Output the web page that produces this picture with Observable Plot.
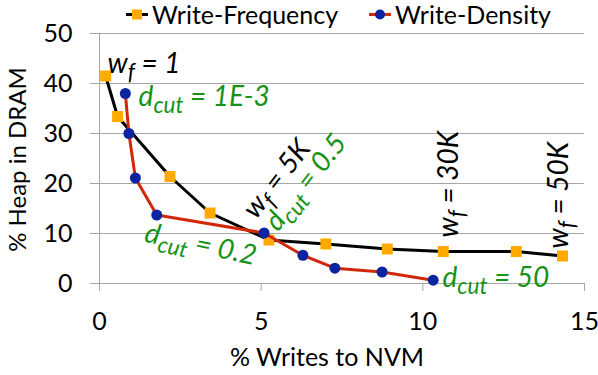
<!DOCTYPE html>
<html>
<head>
<meta charset="utf-8">
<script src="https://cdn.jsdelivr.net/npm/d3@7"></script>
<script src="https://cdn.jsdelivr.net/npm/@observablehq/plot@0.6"></script>
<style>
  html, body { margin: 0; padding: 0; background: #fff; }
  #wrap { position: relative; width: 598px; height: 375px; font-family: Lato, sans-serif; }
  #legend { position: absolute; top: 0; left: 0; width: 598px; height: 28px; z-index: 2; }
  .lg { position: absolute; top: 0; display: flex; align-items: center; height: 28px; font-size: 25px; color: #000; }
  .lg svg { margin-right: 4px; }
</style>
</head>
<body>
<div id="wrap"><div id="legend"></div></div>
<script>
// Data
const seriesNames = ["Write-Frequency", "Write-Density"];
const wfX = [0.19, 0.56, 2.18, 3.42, 5.24, 7.0, 8.9, 10.63, 12.89, 14.32];
const wfY = [41.5, 33.4, 21.4, 14.1, 8.7, 7.9, 6.9, 6.4, 6.4, 5.5];
const wdX = [0.8, 0.91, 1.11, 1.77, 5.09, 6.29, 7.28, 8.74, 10.32];
const wdY = [38.0, 30.0, 21.1, 13.7, 10.1, 5.65, 3.06, 2.3, 0.66];
const xTicks = [0, 5, 10, 15];
const yTicks = [0, 10, 20, 30, 40, 50];
const xTitle = "% Writes to NVM";
const yTitle = "% Heap in DRAM";
// annotations (anchored in data coordinates)
const annText = ["w_f = 1", "d_cut = 1E-3", "w_f = 5K", "d_cut = 0.5", "d_cut = 0.2", "w_f = 30K", "w_f = 50K", "d_cut = 50"];
const annX = [0.25, 1.21, 4.84, 5.52, 1.36, 11.1, 14.48, 10.61];
const annY = [42.15, 35.6, 12.7, 10.2, 8.39, 9.19, 6.99, -0.6];
const annRot = [0, 0, -52, -52, 12, -90, -90, 0];
const annGroup = ["wf", "dcut", "wf", "dcut", "dcut", "wf", "wf", "dcut"];

const C = {lineWF: "#000000", dotWF: "#FFAA00", lineWD: "#D2280A", dotWD: "#0B24A0", grid: "#A6A6A6", green: "#169316"};

const wf = wfX.map((x, i) => ({x, y: wfY[i]}));
const wd = wdX.map((x, i) => ({x, y: wdY[i]}));
const ann = annText.map((t, i) => ({t, x: annX[i], y: annY[i], r: annRot[i], c: annGroup[i] === "wf" ? "#000" : C.green}));

const FS = 25, AFS = 28;
const chart = Plot.plot({
  width: 598, height: 375,
  marginLeft: 99, marginRight: 14, marginTop: 33, marginBottom: 92,
  style: {fontFamily: "Lato, sans-serif", fontSize: FS + "px", color: "#000", background: "transparent", overflow: "visible"},
  x: {domain: [0, 15], label: null},
  y: {domain: [0, 50], label: null},
  marks: [
    Plot.gridY(yTicks.filter(d => d > 0), {stroke: C.grid, strokeOpacity: 1, strokeWidth: 1}),
    Plot.axisY(yTicks, {tickSize: 9, tickPadding: 18, stroke: C.grid, strokeOpacity: 1, fontSize: FS, fill: "#000", label: null}),
    Plot.axisX(xTicks, {tickSize: 8, tickPadding: 21, stroke: C.grid, strokeOpacity: 1, fontSize: FS, fill: "#000", label: null}),
    Plot.ruleY([0], {stroke: C.grid, strokeWidth: 1}),
    Plot.ruleX([0], {stroke: C.grid, strokeWidth: 1}),
    Plot.line(wf, {x: "x", y: "y", stroke: C.lineWF, strokeWidth: 3}),
    Plot.dot(wf, {x: "x", y: "y", symbol: "square", r: 6.2, fill: C.dotWF, stroke: "none"}),
    Plot.line(wd, {x: "x", y: "y", stroke: C.lineWD, strokeWidth: 3}),
    Plot.dot(wd, {x: "x", y: "y", symbol: "circle", r: 5.5, fill: C.dotWD, stroke: "none"}),
    Plot.text(ann, {x: "x", y: "y", text: "t", rotate: "r", fill: "c", textAnchor: "start", lineAnchor: "bottom", fontStyle: "italic", fontSize: AFS}),
    Plot.text([xTitle], {frameAnchor: "bottom", textAnchor: "middle", dx: -15, dy: 74, lineAnchor: "middle", fontSize: FS}),
    Plot.text([yTitle], {frameAnchor: "left", textAnchor: "middle", rotate: -90, dx: -81, dy: 1, lineAnchor: "middle", fontSize: 24})
  ]
});

// subscripts: "a_bc rest" -> a + subscript(bc) + rest
chart.querySelectorAll("text").forEach(el => {
  const s = el.textContent;
  if (el.children.length === 0 && s.includes("_")) {
    const [main, tail] = s.split("_");
    const sp = tail.indexOf(" ");
    const sub = tail.slice(0, sp), rest = tail.slice(sp);
    const shift = AFS * 0.25;
    el.textContent = "";
    el.setAttribute("xml:space", "preserve");
    const mk = (txt, attrs) => {
      const t = document.createElementNS("http://www.w3.org/2000/svg", "tspan");
      t.textContent = txt;
      for (const k in attrs) t.setAttribute(k, attrs[k]);
      el.appendChild(t);
    };
    mk(main, {});
    mk(sub, {"font-size": (AFS * 0.8) + "px", dy: shift});
    mk(rest, {dy: -shift});
  }
});

const wrap = document.getElementById("wrap");
wrap.appendChild(chart);
chart.style.position = "absolute";
chart.style.left = "0"; chart.style.top = "0";

// legend
const legend = document.getElementById("legend");
const lgPos = [126, 369];
const lgLine = [C.lineWF, C.lineWD];
const lgMark = [
  `<rect x="6" y="3.5" width="10" height="10" fill="${C.dotWF}"/>`,
  `<circle cx="11" cy="8.5" r="5" fill="${C.dotWD}"/>`
];
seriesNames.forEach((name, i) => {
  const d = document.createElement("div");
  d.className = "lg";
  d.style.left = lgPos[i] + "px";
  d.innerHTML = `<svg width="22" height="17"><line x1="0" x2="22" y1="8.5" y2="8.5" stroke="${lgLine[i]}" stroke-width="3"/>${lgMark[i]}</svg><span>${name}</span>`;
  legend.appendChild(d);
});
</script>
</body>
</html>
